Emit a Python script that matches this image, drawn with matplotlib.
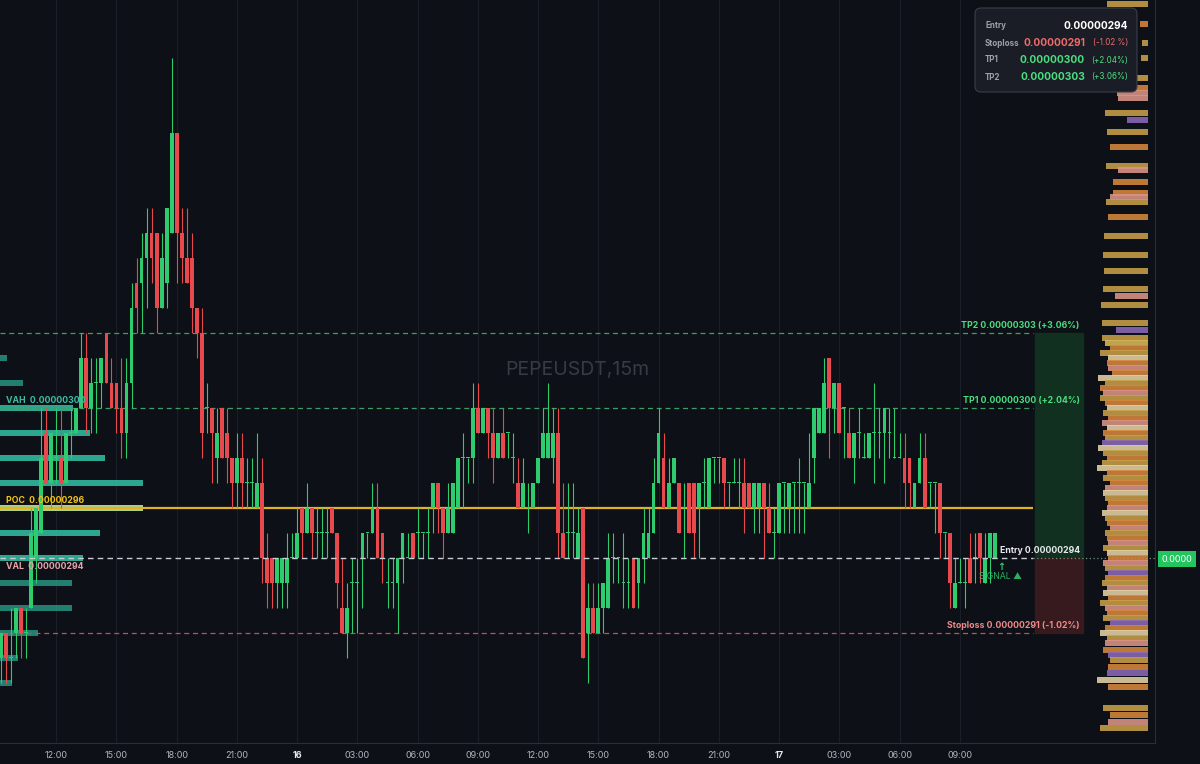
import matplotlib
matplotlib.use('Agg')
import matplotlib.pyplot as plt
from matplotlib.patches import FancyBboxPatch
import numpy as np

plt.rcParams['font.family'] = ['Inter', 'DejaVu Sans']

# prices in units of 1e-8 (PEPEUSDT, 15m)
opens = [290, 291, 290, 291, 292, 291, 292, 294, 295, 299,
         297, 298, 298, 297, 299, 299, 300, 302, 300, 301,
         301, 303, 301, 301, 300, 299, 301, 305, 305, 306,
         307, 307, 304, 305, 307, 311, 307, 306, 306, 304,
         303, 300, 300, 298, 300, 299, 298, 297, 298, 297,
         297, 296, 297, 294, 294, 293, 293, 293, 294, 294,
         296, 295, 296, 295, 295, 295, 296, 295, 292, 291,
         293, 293, 294, 295, 295, 296, 295, 293, 293, 293,
         294, 294, 295, 295, 295, 295, 296, 297, 296, 295,
         295, 296, 298, 298, 298, 300, 299, 300, 299, 298,
         299, 299, 298, 297, 296, 296, 296, 297, 298, 298,
         298, 299, 295, 295, 295, 294, 296, 291, 292, 291,
         292, 292, 294, 294, 293, 293, 294, 293, 294, 294,
         295, 297, 298, 296, 297, 297, 296, 297, 297, 296,
         297, 296, 298, 298, 298, 297, 297, 297, 297, 297,
         296, 296, 297, 296, 295, 295, 297, 296, 297, 297,
         297, 296, 298, 299, 299, 302, 300, 301, 300, 299,
         298, 299, 298, 298, 299, 299, 299, 299, 298, 298,
         298, 298, 296, 297, 298, 297, 297, 297, 295, 295,
         292, 293, 293, 294, 294, 295, 293, 294, 294]
highs = [291, 291, 292, 292, 292, 292, 296, 296, 300, 300,
         299, 300, 300, 299, 300, 300, 303, 303, 302, 302,
         302, 303, 302, 301, 302, 302, 305, 306, 307, 308,
         308, 307, 307, 308, 314, 311, 308, 308, 307, 304,
         304, 301, 300, 300, 300, 300, 298, 299, 299, 298,
         298, 299, 298, 295, 294, 294, 294, 295, 295, 296,
         296, 297, 296, 296, 296, 296, 296, 295, 294, 293,
         294, 294, 295, 295, 297, 297, 295, 294, 294, 294,
         295, 295, 295, 296, 295, 296, 297, 297, 296, 297,
         297, 298, 299, 298, 301, 301, 300, 300, 300, 299,
         300, 299, 299, 298, 298, 297, 297, 298, 300, 301,
         300, 300, 297, 297, 297, 296, 296, 293, 293, 293,
         293, 295, 295, 294, 295, 294, 294, 294, 296, 296,
         298, 300, 299, 298, 298, 297, 297, 297, 297, 297,
         298, 298, 298, 298, 298, 297, 298, 298, 298, 297,
         297, 297, 297, 297, 296, 297, 297, 297, 297, 298,
         297, 299, 300, 300, 302, 302, 301, 301, 300, 300,
         299, 300, 299, 299, 301, 300, 300, 300, 300, 299,
         299, 298, 297, 299, 299, 297, 297, 297, 295, 295,
         294, 294, 294, 295, 295, 295, 295, 295, 295]
lows = [289, 289, 289, 290, 290, 290, 292, 293, 295, 297,
        296, 297, 296, 297, 298, 299, 300, 299, 299, 299,
        300, 301, 300, 299, 298, 298, 300, 303, 303, 304,
        305, 303, 304, 304, 307, 305, 305, 305, 303, 302,
        298, 299, 297, 297, 298, 297, 296, 296, 296, 296,
        296, 296, 293, 292, 292, 292, 292, 292, 294, 294,
        294, 295, 294, 294, 294, 294, 295, 292, 291, 290,
        291, 291, 292, 294, 295, 294, 293, 292, 292, 291,
        293, 294, 294, 294, 294, 294, 295, 295, 294, 295,
        295, 296, 296, 297, 297, 299, 299, 298, 297, 298,
        298, 298, 297, 296, 296, 295, 296, 297, 298, 298,
        297, 294, 294, 294, 294, 294, 290, 289, 291, 291,
        291, 292, 293, 293, 292, 292, 292, 292, 293, 294,
        295, 297, 296, 296, 297, 295, 294, 295, 294, 294,
        296, 296, 297, 297, 296, 296, 297, 296, 295, 296,
        295, 295, 294, 295, 294, 295, 295, 295, 295, 295,
        295, 296, 297, 299, 299, 298, 299, 299, 298, 298,
        297, 298, 298, 298, 297, 298, 297, 298, 298, 298,
        296, 296, 296, 297, 296, 296, 295, 294, 294, 292,
        292, 293, 292, 293, 293, 293, 293, 293, 294]
closes = [291, 290, 290, 292, 291, 291, 295, 296, 298, 297,
          299, 298, 297, 299, 299, 300, 302, 300, 301, 301,
          302, 301, 300, 300, 299, 301, 304, 304, 306, 307,
          306, 304, 306, 308, 311, 307, 306, 305, 304, 303,
          299, 300, 299, 299, 298, 298, 297, 298, 297, 297,
          297, 297, 294, 293, 293, 294, 294, 294, 294, 295,
          295, 296, 295, 295, 295, 295, 295, 293, 291, 292,
          293, 293, 295, 295, 296, 294, 294, 293, 293, 294,
          295, 294, 294, 295, 295, 295, 297, 296, 295, 296,
          297, 298, 298, 298, 300, 299, 300, 299, 298, 299,
          298, 299, 298, 296, 297, 296, 297, 298, 299, 299,
          299, 295, 294, 295, 295, 295, 290, 292, 291, 292,
          293, 294, 294, 294, 293, 293, 292, 294, 295, 295,
          297, 299, 296, 297, 298, 295, 296, 295, 295, 297,
          297, 298, 298, 298, 297, 297, 297, 297, 296, 296,
          297, 297, 296, 295, 295, 297, 297, 297, 297, 297,
          297, 297, 300, 300, 301, 300, 301, 299, 300, 298,
          299, 299, 298, 299, 299, 299, 300, 299, 298, 298,
          297, 297, 297, 298, 296, 297, 297, 295, 295, 293,
          293, 293, 293, 293, 294, 294, 294, 295, 295]

tick_idx = [11, 23, 35, 47, 59, 71, 83, 95, 107, 119, 131, 143, 155, 167, 179, 191]
tick_labels = ['12:00', '15:00', '18:00', '21:00', '16', '03:00', '06:00', '09:00',
               '12:00', '15:00', '18:00', '21:00', '17', '03:00', '06:00', '09:00']

# volume profile (left)
vp_price = [302, 301, 300, 299, 298, 297, 296, 295, 294, 293, 292, 291, 290, 289]
vp_volume = [7, 23, 73, 90, 105, 143, 143, 100, 83, 72, 72, 38, 18, 12]
vah, poc, val = 300, 296, 294

# trade levels
entry, stoploss, tp1, tp2 = 294, 291, 300, 303
sl_pct, tp1_pct, tp2_pct = -1.02, 2.04, 3.06

# liquidity heatmap (right)
heat_price = [316.16, 315.36, 314.6, 314.0, 313.2, 312.8, 312.6, 312.4, 311.8, 311.52,
              311.04, 310.44, 309.68, 309.52, 309.04, 308.6, 308.44, 308.24, 307.64, 306.88,
              306.12, 305.48, 304.76, 304.48, 304.12, 303.4, 303.12,
              302.8, 302.6, 302.4, 302.2, 302.0, 301.8, 301.6, 301.4, 301.2, 301.0,
              300.8, 300.6, 300.4, 300.2, 300.0, 299.8, 299.6, 299.4, 299.2, 299.0,
              298.8, 298.6, 298.4, 298.2, 298.0, 297.8, 297.6, 297.4, 297.2, 297.0,
              296.8, 296.6, 296.4, 296.2, 296.0, 295.8, 295.6, 295.4, 295.2, 295.0,
              294.8, 294.6, 294.4, 294.2, 294.0, 293.8, 293.6, 293.4, 293.2, 293.0,
              292.8, 292.6, 292.4, 292.2, 292.0, 291.8, 291.6, 291.4, 291.2, 291.0,
              290.8, 290.6, 290.32, 290.12, 289.92, 289.64, 289.4, 289.12, 288.84,
              288.0, 287.72, 287.44, 287.2]
heat_size = [41, 8, 6, 7, 43, 36, 31, 30, 43, 21,
             41, 38, 42, 30, 35, 35, 38, 42, 40, 44,
             45, 44, 45, 33, 47, 46, 32,
             46, 43, 38, 48, 40, 41, 40, 36, 50, 43,
             48, 45, 48, 43, 41, 45, 40, 46, 41, 45,
             43, 46, 50, 45, 41, 46, 51, 41, 45, 38,
             43, 45, 43, 40, 41, 46, 43, 41, 38, 43,
             41, 40, 45, 41, 40, 45, 43, 40, 43, 46,
             41, 45, 40, 48, 43, 41, 45, 38, 43, 48,
             41, 43, 45, 40, 38, 40, 41, 51, 40,
             45, 38, 40, 48]
heat_kind = ['tan', 'org', 'tan', 'tan', 'tan', 'org', 'pnk', 'pnk', 'tan', 'pur',
             'tan', 'org', 'tan', 'pnk', 'org', 'org', 'pnk', 'tan', 'org', 'tan',
             'tan', 'tan', 'tan', 'pnk', 'tan', 'tan', 'pur',
             'tan', 'yel', 'org', 'tan', 'crm', 'org', 'pnk', 'org', 'crm', 'tan',
             'org', 'pnk', 'tan', 'org', 'crm', 'tan', 'org', 'pnk', 'crm', 'org',
             'tan', 'pur', 'crm', 'tan', 'org', 'tan', 'crm', 'org', 'tan', 'org',
             'pnk', 'crm', 'tan', 'org', 'pnk', 'crm', 'tan', 'org', 'pnk', 'tan',
             'org', 'pnk', 'tan', 'crm', 'org', 'pnk', 'tan', 'pur', 'org', 'tan',
             'pnk', 'crm', 'org', 'tan', 'pnk', 'org', 'tan', 'pur', 'org', 'crm',
             'tan', 'pnk', 'org', 'pur', 'tan', 'org', 'pur', 'crm', 'org',
             'tan', 'org', 'pnk', 'tan']
heat_colors = {'tan': '#c99f48', 'org': '#d7863c', 'pnk': '#dc9488', 'crm': '#e6d3a6',
               'yel': '#d8b85a', 'pur': '#8a68b8'}

BG = '#0d1016'
GREEN = '#2ecc6f'
RED = '#e8494d'
W = 1200
H = 764

fig = plt.figure(figsize=(12, 7.64), dpi=100)
fig.patch.set_facecolor(BG)
ax = fig.add_axes([0, 21 / H, 1155 / W, 743 / H])
ax.set_facecolor(BG)

n = len(opens)
xs = np.arange(n)
o = np.array(opens, float)
c = np.array(closes, float)
hi = np.array(highs, float)
lo = np.array(lows, float)
up = c >= o
cols = np.where(up, GREEN, RED)

# grid
for t in tick_idx:
    ax.axvline(t, color='#1a1e28', lw=0.8, zorder=0)

# volume profile
vp_scale = 28.5 / max(vp_volume)
for p, v in zip(vp_price, vp_volume):
    if p == poc:
        col, a = '#b6d98c', 0.95
    elif val <= p <= vah:
        col, a = '#30b89d', 0.9
    else:
        col, a = '#2aa58f', 0.75
    ax.barh(p, v * vp_scale, left=-0.2, height=0.21, color=col, alpha=a, zorder=1)

# candles
ax.vlines(xs, lo, hi, colors=cols, lw=0.8, zorder=3)
body = np.maximum(np.abs(c - o), 0.05)
ax.bar(xs, body, bottom=np.minimum(o, c), width=0.76, color=cols, zorder=4)

x_end = 205.6
# risk / reward boxes
ax.fill_between([206, 215.6], entry, tp2, color='#12301f', zorder=1)
ax.fill_between([206, 215.6], stoploss, entry, color='#371a1e', zorder=1)

# levels
ax.hlines(tp2, -0.2, x_end, colors='#3f9f63', lw=0.9, linestyles=(0, (4, 3)), zorder=2)
ax.hlines(tp1, -0.2, x_end, colors='#3f9f63', lw=0.9, linestyles=(0, (4, 3)), zorder=2)
ax.hlines(poc, -0.2, x_end, colors='#e0b224', lw=1.6, zorder=2)
ax.hlines(entry, -0.2, x_end, colors='#c9ccd3', lw=1.0, linestyles=(0, (4, 3)), zorder=5)
ax.hlines(entry, x_end, 230, colors='#6f8f7c', lw=0.9, linestyles=(0, (1, 2)), zorder=5)
ax.hlines(stoploss, -0.2, x_end, colors='#b9545a', lw=0.9, linestyles=(0, (4, 3)), zorder=2)

lx = 214.9
ax.text(lx, tp2 + 0.1, f'TP2 0.00000{tp2} (+{tp2_pct:.2f}%)', color='#4ade80',
        fontsize=6.3, fontweight='bold', ha='right', va='bottom', zorder=6)
ax.text(lx, tp1 + 0.1, f'TP1 0.00000{tp1} (+{tp1_pct:.2f}%)', color='#4ade80',
        fontsize=6.3, fontweight='bold', ha='right', va='bottom', zorder=6)
ax.text(lx, entry + 0.1, f'Entry 0.00000{entry}', color='#e8eaee',
        fontsize=6.3, fontweight='bold', ha='right', va='bottom', zorder=6)
ax.text(lx, stoploss + 0.1, f'Stoploss 0.00000{stoploss} ({sl_pct:.2f}%)', color='#f08a8a',
        fontsize=6.3, fontweight='bold', ha='right', va='bottom', zorder=6)

ax.text(1.0, vah + 0.12, f'VAH  0.00000{vah}', color='#3cbfa2', fontsize=6.3,
        fontweight='bold', va='bottom', zorder=6)
ax.text(1.0, poc + 0.12, f'POC  0.00000{poc}', color='#f2c417', fontsize=6.3,
        fontweight='bold', va='bottom', zorder=6)
ax.text(1.0, val - 0.15, f'VAL  0.00000{val}', color='#e7a3ab', fontsize=6.3,
        fontweight='bold', va='top', zorder=6)

# signal marker
ax.text(199.2, entry - 0.18, '↑', color=GREEN, fontsize=7, fontweight='bold',
        ha='center', va='top', family=['DejaVu Sans'], zorder=6)
ax.text(199.2, entry - 0.55, 'SIGNAL ▲', color=GREEN, fontsize=6.3, alpha=0.85,
        ha='center', va='top', family=['Inter', 'DejaVu Sans'], zorder=6)

# watermark
ax.text(114.9, 301.5, 'PEPEUSDT,15m', color='#363b46', fontsize=14,
        ha='center', va='center', zorder=0)

ax.set_xlim(-0.2, 229.9)
ax.set_ylim(286.6, 316.32)
ax.set_yticks([])
ax.set_xticks(tick_idx)
ax.set_xticklabels(tick_labels)
ax.tick_params(axis='x', length=0, pad=6, labelsize=6.5, labelcolor='#b2b5be')
for lab in ax.get_xticklabels():
    if ':' not in lab.get_text():
        lab.set_fontweight('bold')
        lab.set_color('#e6e8ec')
for s in ['top', 'left']:
    ax.spines[s].set_visible(False)
ax.spines['bottom'].set_color('#2a2e39')
ax.spines['right'].set_color('#2a2e39')

# heatmap axis
hax = fig.add_axes([1093 / W, 21 / H, 55 / W, 743 / H], sharey=ax)
hax.set_facecolor('none')
hax.barh(heat_price, heat_size, left=0, height=0.26,
         color=[heat_colors[k] for k in heat_kind], alpha=0.88)
hax.set_xlim(55, 0)
hax.axis('off')
hax.set_ylim(286.6, 316.32)

# price tag
fig.text(1177 / W, 1 - 559 / H, '0.0000', color='white', fontsize=6.5, ha='center', va='center',
         bbox=dict(boxstyle='square,pad=0.35', fc='#22c55e', ec='none'))

# info panel
panel = FancyBboxPatch((975 / 100, (H - 92) / 100), 1.62, 0.84,
                       boxstyle='round,pad=0,rounding_size=0.06',
                       transform=fig.dpi_scale_trans, fc='#1a1d25', ec='#3a3e49', lw=0.8, zorder=10)
fig.patches.append(panel)


def fx(px):
    return px / W


def fy(py):
    return 1 - py / H


rows = [('Entry', f'0.00000{entry}', '', '#ffffff'),
        ('Stoploss', f'0.00000{stoploss}', f'({sl_pct:.2f} %)', '#f06a6a'),
        ('TP1', f'0.00000{tp1}', f'(+{tp1_pct:.2f}%)', '#4ade80'),
        ('TP2', f'0.00000{tp2}', f'(+{tp2_pct:.2f}%)', '#4ade80')]
for i, (name, value, pct, col) in enumerate(rows):
    yy = fy(26 + 17 * i)
    fig.text(fx(985), yy, name, color='#9aa0ab', fontsize=5.8, fontweight='bold',
             va='center', zorder=11)
    if pct:
        fig.text(fx(1085), yy, value, color=col, fontsize=7.3, fontweight='bold',
                 ha='right', va='center', zorder=11)
        fig.text(fx(1128), yy, pct, color=col, fontsize=5.8, ha='right', va='center', zorder=11)
    else:
        fig.text(fx(1128), yy, value, color=col, fontsize=7.3, fontweight='bold',
                 ha='right', va='center', zorder=11)

fig.savefig('out.png', dpi=100, facecolor=BG)
